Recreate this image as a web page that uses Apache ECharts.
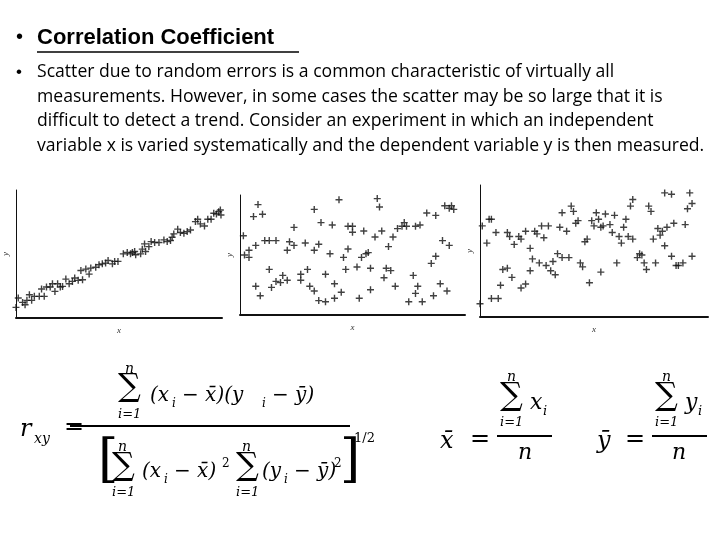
<!DOCTYPE html>
<html>
<head>
<meta charset="utf-8">
<script src="https://cdn.jsdelivr.net/npm/echarts@6/dist/echarts.min.js"></script>
<style>html,body{margin:0;padding:0;background:#fff}#main{width:720px;height:540px}</style>
</head>
<body>
<div id="main"></div>
<script>
"use strict";
// 数据：三幅散点图 (x, y 均为 0-100 的相对值)
var strongData = [[0,8.3],[1.1,15.6],[3.2,12.2],[4.4,10.4],[5.3,13.8],[6.5,18.2],[7.6,13.8],[8.9,16.9],[11.3,16.9],[12.4,22.6],
    [13.7,16.9],[14.8,24.2],[16.6,24.2],[17.7,26.8],[18.9,20.8],[20.2,26.8],[21.5,24.2],[22.6,24.7],[24.2,30.4],[25.8,26.8],
    [27.4,28.6],[28.5,31.2],[30.2,29.4],[31.5,37.1],[32.3,29.9],[33.9,38.2],[35.5,34.3],[36.3,39],[38.7,39.7],[40.3,41.6],
    [41.9,42.3],[43.5,42.9],[44.7,44.9],[46.8,42.3],[47.9,44.2],[49.5,44.2],[52.1,50.1],[54,51.2],[55.6,50.1],[56.5,51.2],
    [57.6,51.9],[58.1,49.4],[60.5,50.1],[61.3,53.8],[62.4,57.9],[62.9,51.9],[64.5,55.8],[65.6,59.7],[67.3,59],[69.4,59],
    [71.8,61],[73.4,59.7],[75,60.5],[75.8,63.1],[76.6,65.7],[78.5,69.4],[79.8,66.8],[81.5,66.2],[83.1,67.5],[84.7,68.8],
    [87.1,75.3],[88.2,77.1],[89.5,73.5],[91.5,71.9],[93.1,77.1],[94.7,77.1],[96,81.8],[97.3,81.3],[98.4,83.1],[99.2,84.4],[99.5,80.5]];
var noneData = [[1.5,66],[8,92],[6,82],[10,84],[2,50],[4,48],[4,54],[7,58],[11,62],[13,62],[16,62],[13,38],[7,24],[9,16],
    [14,23],[16,28],[18,27],[19,33],[21,29],[21,54],[22,61],[24,73],[24,58],[27,29],[27,34],[29,60],[30,38],[31,24],[33,54],
    [33,88],[33,20],[35,12],[35,59],[36,77],[38,11],[38,34],[40,51],[41,75],[42,26],[42,14],[44,96],[45,19],[46,48],[47,38],
    [48,74],[48,55],[50,74],[50,69],[52,40],[53,14],[54,48],[55,70],[56,51],[57,52],[58,21],[58,39],[60,65],[61,97],[62,90],
    [63,70],[64,31],[65,39],[66,57],[67,37],[68,65],[69,24],[70,72],[72,74],[73,77],[74,74],[75,11],[77,33],[78,18],[78,74],
    [79,24],[80,75],[81,11],[83,85],[85,43],[86,16],[87,83],[87,49],[89,26],[90,62],[91,91],[92,20],[93,89],[93,58],[94,91],[95,88]];
var weakData = [[0,10],[1,69],[3,56],[4,74],[5,74],[5,14],[7,64],[8,14],[9,24],[10,36],[12,64],[12,37],[13,61],[14,30],[15,55],
    [17,61],[18,59],[18,22],[20,25],[20,65],[22,52],[22,35],[23,44],[24,65],[25,63],[26,41],[27,69],[28,60],[29,39],[30,69],
    [31,35],[32,42],[33,32],[34,48],[36,79],[35,68],[36,45],[38,65],[39,45],[40,84],[41,80],[42,71],[43,73],[44,41],[45,38],
    [46,57],[47,59],[48,26],[49,73],[50,69],[51,79],[52,74],[53,34],[53,68],[54,69],[55,78],[57,70],[58,64],[59,77],[60,41],
    [61,61],[62,56],[63,68],[64,74],[65,61],[66,84],[67,59],[67,89],[69,45],[70,48],[71,47],[72,41],[73,36],[74,84],[75,80],
    [76,59],[77,41],[78,67],[79,62],[80,65],[81,54],[81,94],[82,68],[84,93],[84,46],[85,71],[86,39],[87,39],[90,70],[89,41],
    [91,82],[92,94],[93,46],[93,86]];

var plusSymbol = 'path://M4,0H6V4H10V6H6V10H4V6H0V4H4Z';
var grids = [
    {left: 15, top: 190, width: 207, height: 128},
    {left: 240, top: 195, width: 225, height: 120},
    {left: 480, top: 185, width: 228, height: 132}
];

function axis(i, isX){
    return {
        type: 'value', gridIndex: i, min: 0, max: 100,
        name: isX ? 'x' : 'y', nameLocation: 'middle', nameGap: isX ? 8 : 6,
        nameTextStyle: {fontFamily: 'Liberation Serif', fontStyle: 'italic', fontSize: 9, color: '#333'},
        axisLine: {show: true, lineStyle: {color: '#111', width: isX ? 2 : 1}},
        axisTick: {show: false}, axisLabel: {show: false}, splitLine: {show: false}
    };
}

var serif = 'DejaVu Serif';
var gfx = [];
function t(x, y, s, size, italic){
    gfx.push({type: 'text', left: x, top: y, style: {text: s, fontSize: size || 20, fontFamily: serif,
        fontStyle: italic ? 'italic' : 'normal', fill: '#000'}});
}
function line(x1, y1, x2, y2, w){
    gfx.push({type: 'line', shape: {x1: x1, y1: y1, x2: x2, y2: y2}, style: {stroke: '#000', lineWidth: w || 1.5}});
}

// 标题与正文
gfx.push({type: 'text', left: 16, top: 27, style: {text: '•', fontSize: 20, fontFamily: 'Liberation Sans', fill: '#000'}});
gfx.push({type: 'text', left: 37, top: 27, style: {text: 'Correlation Coefficient', fontSize: 22, fontWeight: 'bold',
    fontFamily: 'Liberation Sans', fill: '#000'}});
line(37, 52, 299, 52, 1.5);
gfx.push({type: 'text', left: 16, top: 64, style: {text: '•', fontSize: 17, fontFamily: 'Liberation Sans', fill: '#000'}});
gfx.push({type: 'text', left: 37, top: 60, style: {fontSize: 17.6, fontFamily: 'Open Sans', fill: '#000', lineHeight: 24.5,
    text: 'Scatter due to random errors is a common characteristic of virtually all\n' +
          'measurements. However, in some cases the scatter may be so large that it is\n' +
          'difficult to detect a trend. Consider an experiment in which an independent\n' +
          'variable x is varied systematically and the dependent variable y is then measured.'}});

// r_xy 公式
t(20, 418, 'r', 24, true); t(34, 432, 'xy', 14, true); t(64, 416, '=', 24);
t(125, 362, 'n', 14, true); t(118, 372, '∑', 32); t(118, 408, 'i=1', 13, true);
t(150, 386, '(x', 20, true); t(172, 398, 'i', 12, true); t(182, 386, '− x̄)(y', 20, true); t(262, 398, 'i', 12, true); t(272, 386, '− ȳ)', 20, true);
line(70, 426, 350, 426, 2);
t(98, 436, '[', 52);
t(118, 440, 'n', 14, true); t(112, 451, '∑', 32); t(112, 486, 'i=1', 13, true);
t(142, 462, '(x', 20, true); t(164, 474, 'i', 12, true); t(174, 462, '− x̄)', 20, true); t(222, 458, '2', 12);
t(242, 440, 'n', 14, true); t(236, 451, '∑', 32); t(236, 486, 'i=1', 13, true);
t(262, 462, '(y', 20, true); t(284, 474, 'i', 12, true); t(294, 462, '− ȳ)', 20, true); t(334, 458, '2', 12);
t(340, 436, ']', 52); t(354, 432, '1/2', 13);
// x̄ 公式
t(440, 430, 'x̄', 24, true); t(470, 428, '=', 24);
t(507, 370, 'n', 14, true); t(500, 381, '∑', 32); t(500, 416, 'i=1', 13, true); t(530, 392, 'x', 22, true); t(543, 405, 'i', 13, true);
line(497, 436, 552, 436, 2); t(518, 442, 'n', 22, true);
// ȳ 公式
t(597, 430, 'ȳ', 24, true); t(625, 428, '=', 24);
t(662, 370, 'n', 14, true); t(655, 381, '∑', 32); t(655, 416, 'i=1', 13, true); t(685, 392, 'y', 22, true); t(698, 405, 'i', 13, true);
line(652, 436, 707, 436, 2); t(672, 442, 'n', 22, true);

var chart = echarts.init(document.getElementById('main'));
var datasets = [strongData, noneData, weakData];
chart.setOption({
    animation: false,
    grid: grids,
    xAxis: [axis(0, true), axis(1, true), axis(2, true)],
    yAxis: [axis(0, false), axis(1, false), axis(2, false)],
    series: datasets.map(function (d, i) {
        return {type: 'scatter', xAxisIndex: i, yAxisIndex: i, data: d, symbol: plusSymbol, symbolSize: 7,
            itemStyle: {color: '#111'}};
    }),
    graphic: gfx
});
</script>
</body>
</html>
